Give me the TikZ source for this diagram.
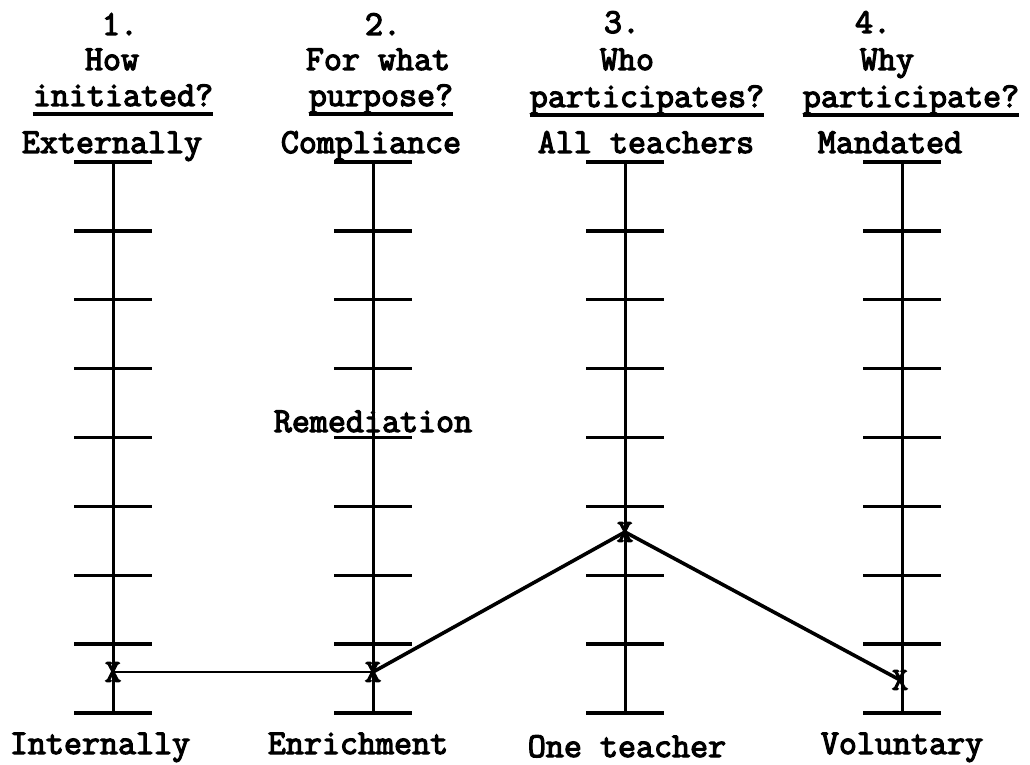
\documentclass[tikz,border=0pt]{standalone}
\usepackage{fontspec}
\newfontfamily\twfont[FakeBold=3.5]{Latin Modern Mono}
\begin{document}
\begin{tikzpicture}[x=1pt,y=-1pt,
  lbl/.style={font=\twfont\fontsize{35}{40}\selectfont, inner sep=0pt, anchor=base},
  axisline/.style={line width=3pt},
  tickline/.style={line width=3.4pt},
  uline/.style={line width=3.4pt},
  xmark/.style={font=\twfont\fontsize{32}{32}\selectfont, inner sep=0pt},
  thinlink/.style={line width=2.2pt},
  link/.style={line width=3.6pt, line join=round}]
\useasboundingbox (0,0) rectangle (1030,765);

% headings
\node[lbl] (n1) at (120,35) {1.};
\node[lbl] (n2) at (383,35) {2.};
\node[lbl] (n3) at (622,33) {3.};
\node[lbl] (n4) at (873,33) {4.};

\node[lbl] (h1) at (112,70) {How};
\node[lbl] (h2) at (378,70) {For what};
\node[lbl] (h3) at (627,70) {Who};
\node[lbl] (h4) at (887,70) {Why};

\node[lbl] (q1) at (123,106) {initiated?};
\node[lbl] (q2) at (381,106) {purpose?};
\node[lbl] (q3) at (647,107) {participates?};
\node[lbl] (q4) at (911,107) {participate?};

\foreach \q in {q1,q2,q3,q4}
  \draw[uline] ([yshift=-8pt]\q.base west) -- ([yshift=-8pt]\q.base east);

\node[lbl] (t1) at (112,153) {Externally};
\node[lbl] (t2) at (371,153) {Compliance};
\node[lbl] (t3) at (646,153) {All teachers};
\node[lbl] (t4) at (890,153) {Mandated};

\node[lbl] (b1) at (100,754) {Internally};
\node[lbl] (b2) at (358,754) {Enrichment};
\node[lbl] (b3) at (627,757) {One teacher};
\node[lbl] (b4) at (902,754) {Voluntary};

\node[lbl] (rem) at (373,432) {Remediation};

% axes with ticks
\foreach \x/\n in {113/1,373/2,625/3,902/4} {
  \coordinate (top\n) at (\x,162);
  \coordinate (bot\n) at (\x,713);
  \draw[axisline] (top\n) -- (bot\n);
  \foreach \i in {0,...,8}
    \draw[tickline] (\x-39,162+\i*68.875) -- (\x+39,162+\i*68.875);
}

% markers
\node[xmark] (x1) at (113,672) {X};
\node[xmark] (x2) at (373,672) {X};
\node[xmark] (x3) at (625,532) {X};
\node[xmark] (x4) at (900,680) {X};

\draw[thinlink] (x1.center) -- (x2.center);
\draw[link] (x2.center) -- (x3.center) -- (x4.center);
\end{tikzpicture}
\end{document}
